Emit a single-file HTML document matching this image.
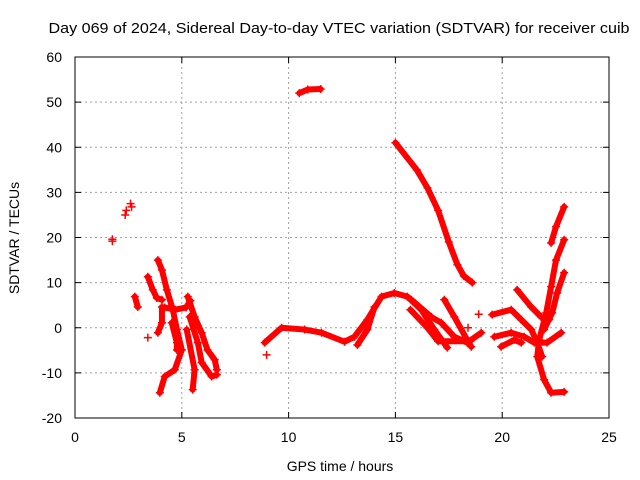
<!DOCTYPE html>
<html><head><meta charset="utf-8"><style>
body{margin:0;background:#fff}
svg{display:block;font-family:"Liberation Sans",sans-serif}
</style></head><body>
<svg id="c" width="640" height="480"></svg>
<script>
const xTicks=[0,5,10,15,20,25];
const yTicks=[-20,-10,0,10,20,30,40,50,60];
const isoPts=[[1.75,19.2],[1.75,19.6],[2.35,25],[2.4,26],[2.6,27.5],[2.65,26.8],[3.41,-2.2],[8.97,-6],[18.9,3],[18.4,0]];
const trackA=[[3.41,11.3],[3.64,8.4],[3.83,6.6],[4.07,6.2]];
const trackB=[[3.88,15],[4.07,12.8],[4.3,8.4],[4.58,4],[4.77,-0.4],[5.0,-4.9],[4.67,-9.3],[4.2,-10.8],[3.97,-14.4]];
const trackC=[[5.28,6.9],[5.6,2.4],[5.93,-1.1],[6.2,-4.9],[6.54,-7.1],[6.64,-9.3]];
const trackD=[[5.37,2.4],[5.75,-3.3],[5.93,-7.7],[6.4,-10.8],[6.64,-10.4]];
const trackE=[[5.23,-0.4],[5.6,-9.3],[5.51,-13.7]];
const trackF=[[4.2,4.5],[4.7,4],[5.2,4.5],[5.4,6]];
const trackG=[[3.88,-1.1],[4.07,1.1],[4.07,4.6]];
const trackG2=[[4.53,1.1],[4.77,-3.3],[4.77,-4.9]];
const trackG3=[[2.8,6.9],[2.94,4.6]];
const trackH=[[8.88,-3.3],[9.67,0],[10.75,-0.4],[11.54,-1.1],[12.62,-3.1],[13.08,-2],[13.69,1.8],[14.35,6.9],[14.95,7.7],[15.56,6.9],[16.21,4],[16.82,-0.4],[17.43,-4.4]];
const trackI=[[13.22,-3.8],[13.69,-0.4],[14.02,4.6]];
const trackJ=[[15.75,6.2],[16.68,2.4],[17.15,1.1],[17.76,-2],[18.36,-3.3],[19.02,-1.1]];
const trackK=[[17.29,6.2],[17.76,2.4],[18.36,-2.7],[18.55,-4.2]];
const trackL=[[15.7,4],[16.5,0],[17,-3],[18.5,-3]];
const trackTop=[[10.5,52],[10.9,52.8],[11.5,52.9]];
const trackFall=[[15,41],[16,35],[16.5,31],[17,26],[17.5,19],[17.9,14],[18.2,11.5],[18.6,10]];
const trackM=[[22.9,26.8],[22.52,22.4],[22.29,18.8]];
const trackN=[[22.9,19.5],[22.52,15],[22.29,9.1],[22.06,3.3],[21.73,-2.7],[21.64,-6.4],[21.96,-11.5],[22.29,-14.4],[22.9,-14.2]];
const trackO=[[22.9,12.2],[22.57,7.7],[22.34,3.3],[21.96,-0.4]];
const trackP=[[20.7,8.4],[21.36,4.6],[21.82,2.4],[22.2,1.8]];
const trackQ=[[19.53,2.9],[20.42,4],[20.89,1.8],[21.36,-0.4],[21.64,-3.3],[21.87,-6.4]];
const trackR=[[19.63,-2],[20.42,-1.1],[21.03,-2],[21.5,-3.3],[22.1,-3.3],[22.76,-1.1]];
const trackS=[[19.95,-4.2],[20.56,-2.7],[20.89,-3.3]];
const tracks=[trackA,trackB,trackC,trackD,trackE,trackF,trackG,trackG2,trackG3,trackH,trackI,trackJ,trackK,trackL,trackTop,trackFall,trackM,trackN,trackO,trackP,trackQ,trackR,trackS];

const L=75,R=609,T=57,B=418;
const sx=v=>L+(v-0)/25*(R-L);
const sy=v=>B-(v+20)/80*(B-T);
const svg=document.getElementById('c');
const NS='http://www.w3.org/2000/svg';
function mk(tag,at){const e=document.createElementNS(NS,tag);for(const k in at)e.setAttribute(k,at[k]);svg.appendChild(e);return e;}
let t=mk('text',{x:339,y:33,'text-anchor':'middle','font-size':15,textLength:581,lengthAdjust:'spacingAndGlyphs',fill:'#000'});t.textContent='Day 069 of 2024, Sidereal Day-to-day VTEC variation (SDTVAR) for receiver cuib';


xTicks.forEach(v=>{
  const x=sx(v);
  if(v>0&&v<25){let g=mk('line',{x1:x,x2:x,y1:T,y2:B,stroke:'#a0a0a0','stroke-dasharray':'2,3'});
  
  }
  mk('line',{x1:x,x2:x,y1:B,y2:B-6,stroke:'#000'});mk('line',{x1:x,x2:x,y1:T,y2:T+6,stroke:'#000'});
  let l=mk('text',{x:x,y:442,'text-anchor':'middle','font-size':14});l.textContent=v;
  
  
});
yTicks.forEach(v=>{
  const y=sy(v);
  if(v>-20&&v<60){let g=mk('line',{x1:L,x2:R,y1:y,y2:y,stroke:'#a0a0a0','stroke-dasharray':'2,3'});
  
  }
  mk('line',{x1:L,x2:L+6,y1:y,y2:y,stroke:'#000'});mk('line',{x1:R,x2:R-6,y1:y,y2:y,stroke:'#000'});
  let l=mk('text',{x:62,y:y+5,'text-anchor':'end','font-size':14});l.textContent=v;
  
  
});
let f=mk('rect',{x:L,y:T,width:R-L,height:B-T,fill:'none',stroke:'#000'});


function plus(p){const x=sx(p[0]),y=sy(p[1]);
  let m=mk('path',{d:`M${x-4} ${y}H${x+4}M${x} ${y-4}V${y+4}`,stroke:'#f00','stroke-width':1.5});
  
  }
tracks.forEach(tr=>{
  let pl=mk('polyline',{points:tr.map(p=>sx(p[0])+','+sy(p[1])).join(' '),fill:'none',stroke:'#f00','stroke-width':6,'stroke-linejoin':'round','stroke-linecap':'round'});
  
  
  tr.forEach(plus);
});
isoPts.forEach(plus);
let xl=mk('text',{x:340,y:471,'text-anchor':'middle','font-size':14});xl.textContent='GPS time / hours';


let yl=mk('text',{x:0,y:0,'text-anchor':'middle','font-size':14,transform:'translate(19,238) rotate(-90)'});yl.textContent='SDTVAR / TECUs';


</script>
</body></html>
